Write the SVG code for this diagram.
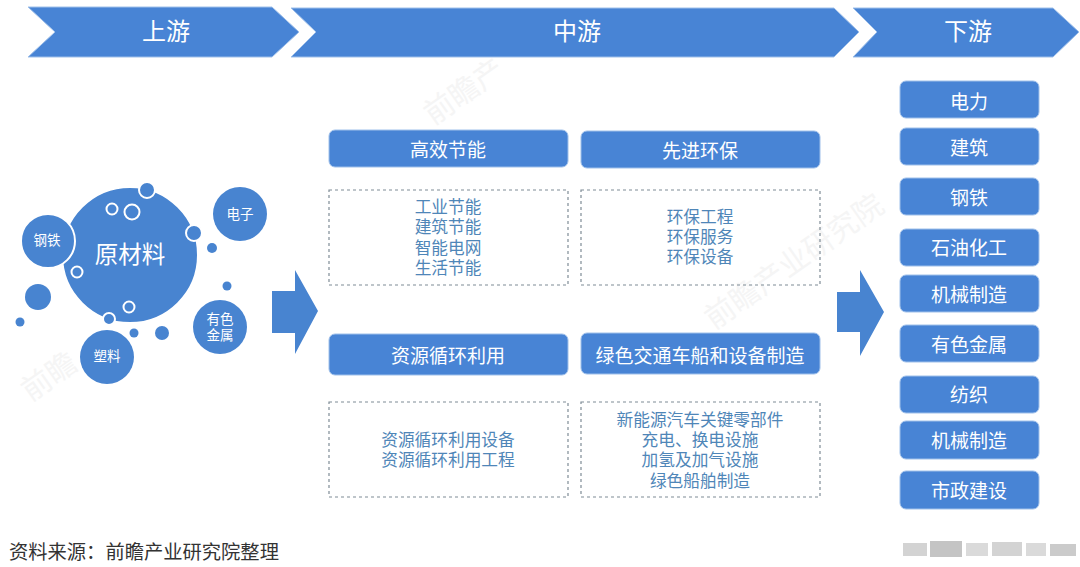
<svg xmlns="http://www.w3.org/2000/svg" width="1080" height="567" viewBox="0 0 1080 567">
<style>
text{font-family:"Noto Sans CJK SC","Liberation Sans",sans-serif;text-anchor:middle}
.b{fill:#4884d5;stroke:#9fc0ea;stroke-width:1}
.c{fill:#4884d0}
.w{fill:#fff}
.h{font-size:24px}
.t{font-size:19px}
.d{fill:none;stroke:#7f8c96;stroke-width:1.2;stroke-dasharray:3 3}
.l{fill:#4f86b8;font-size:16.7px}
.o{fill:#4884d0;stroke:#fff;stroke-width:2}
.r{fill:none;stroke:#fff;stroke-width:2}
.s{font-size:13.5px;fill:#fff}
.g{fill:#b5b5b5}
.m{fill:#f5f5f5;font-size:30px}
</style>
<rect width="1080" height="567" fill="#fff"/>
<g id="watermarks">
<text class="m" transform="translate(470,100) rotate(-35)">前瞻产</text>
<text class="m" transform="translate(800,270) rotate(-35)">前瞻产业研究院</text>
<text class="m" transform="translate(55,385) rotate(-35)">前瞻</text>
</g>
<g id="band-upstream"><polygon class="b" points="28,7 272,7 299,32 272,57 28,57 55,32"/><text class="w h" x="166" y="40">上游</text></g>
<g id="band-midstream"><polygon class="b" points="291,8 834,8 859,32 834,57 291,57 316,32"/><text class="w h" x="577" y="40">中游</text></g>
<g id="band-downstream"><polygon class="b" points="853,8 1053,8 1079,32 1053,57 853,57 877,32"/><text class="w h" x="968" y="40">下游</text></g>

<g id="raw-materials">
<circle class="o" cx="130" cy="255" r="68"/>
<text class="w" x="130" y="263" font-size="23.5px">原材料</text>
<circle class="r" cx="112" cy="209" r="5.5"/><circle class="r" cx="132" cy="212" r="7.5"/><circle class="r" cx="77" cy="272" r="5.5"/><circle class="r" cx="129" cy="307" r="5.5"/>
<circle class="o" cx="147" cy="190" r="8"/><circle class="o" cx="194" cy="233" r="8"/><circle class="o" cx="109" cy="319" r="6"/>
</g>
<g id="steel"><circle class="o" cx="48" cy="241" r="27"/><text class="s" x="47" y="245">钢铁</text></g>
<g id="electronics"><circle class="c" cx="240" cy="214" r="27"/><text class="s" x="240" y="219">电子</text></g>
<g id="metals"><circle class="c" cx="220" cy="327" r="27"/><text class="s" x="220" y="324">有色<tspan x="220" dy="16">金属</tspan></text></g>
<g id="plastics"><circle class="c" cx="107" cy="357" r="27"/><text class="s" x="107" y="361">塑料</text></g>
<g id="dots"><circle class="c" cx="38" cy="297" r="13"/><circle class="c" cx="20" cy="322" r="4.5"/><circle class="c" cx="134" cy="333" r="4.5"/><circle class="c" cx="162" cy="333" r="7"/><circle class="c" cx="212" cy="248" r="5"/><circle class="c" cx="227" cy="286" r="4.5"/></g>

<g id="connectors">
<polygon class="c" points="272,291 295,291 295,270 318,311 295,354 295,333 272,333"/>
<polygon class="c" points="837,292 860,292 860,270 884,312 860,356 860,332 837,332"/>
</g>

<g id="efficient"><rect class="b" x="329" y="130" width="239" height="37" rx="6"/><text class="w t" x="448" y="157">高效节能</text></g>
<g id="environment"><rect class="b" x="581" y="131" width="239" height="37" rx="6"/><text class="w t" x="700" y="158">先进环保</text></g>
<g id="recycling"><rect class="b" x="329" y="334" width="239" height="41" rx="6"/><text class="w t" x="448" y="363">资源循环利用</text></g>
<g id="transport"><rect class="b" x="581" y="333" width="239" height="41" rx="6"/><text class="w t" x="700" y="363">绿色交通车船和设备制造</text></g>

<g id="efficient-list"><rect class="d" x="329" y="190" width="239" height="95"/><text class="l" x="448" y="213">工业节能<tspan x="448" dy="20.3">建筑节能</tspan><tspan x="448" dy="20.3">智能电网</tspan><tspan x="448" dy="20.3">生活节能</tspan></text></g>
<g id="environment-list"><rect class="d" x="581" y="190" width="239" height="95"/><text class="l" x="700" y="223">环保工程<tspan x="700" dy="20">环保服务</tspan><tspan x="700" dy="20">环保设备</tspan></text></g>
<g id="recycling-list"><rect class="d" x="329" y="402" width="239" height="95"/><text class="l" x="448" y="446">资源循环利用设备<tspan x="448" dy="20">资源循环利用工程</tspan></text></g>
<g id="transport-list"><rect class="d" x="581" y="402" width="239" height="95"/><text class="l" x="700" y="426">新能源汽车关键零部件<tspan x="700" dy="20">充电、换电设施</tspan><tspan x="700" dy="20">加氢及加气设施</tspan><tspan x="700" dy="20.5">绿色船舶制造</tspan></text></g>

<g id="d1"><rect class="b" x="900" y="81" width="139" height="37" rx="6"/><text class="w t" x="969" y="109">电力</text></g>
<g id="d2"><rect class="b" x="900" y="128" width="139" height="37" rx="6"/><text class="w t" x="969" y="155">建筑</text></g>
<g id="d3"><rect class="b" x="900" y="178" width="139" height="37" rx="6"/><text class="w t" x="969" y="205">钢铁</text></g>
<g id="d4"><rect class="b" x="900" y="229" width="139" height="37" rx="6"/><text class="w t" x="969" y="255">石油化工</text></g>
<g id="d5"><rect class="b" x="900" y="275" width="139" height="37" rx="6"/><text class="w t" x="969" y="302">机械制造</text></g>
<g id="d6"><rect class="b" x="900" y="325" width="139" height="37" rx="6"/><text class="w t" x="969" y="352">有色金属</text></g>
<g id="d7"><rect class="b" x="900" y="376" width="139" height="37" rx="6"/><text class="w t" x="969" y="402">纺织</text></g>
<g id="d8"><rect class="b" x="900" y="421" width="139" height="38" rx="6"/><text class="w t" x="969" y="448">机械制造</text></g>
<g id="d9"><rect class="b" x="900" y="471" width="139" height="38" rx="6"/><text class="w t" x="969" y="498">市政建设</text></g>

<text x="9" y="559" font-size="19.3px" fill="#333" style="text-anchor:start">资料来源：前瞻产业研究院整理</text>
<g id="blur" class="g"><rect x="903" y="543" width="24" height="13" opacity=".6"/><rect x="930" y="541" width="32" height="16" opacity=".8"/><rect x="966" y="543" width="22" height="13" opacity=".5"/><rect x="992" y="542" width="30" height="14" opacity=".6"/><rect x="1026" y="543" width="20" height="13" opacity=".5"/><rect x="1050" y="544" width="26" height="12" opacity=".7"/></g>
</svg>
